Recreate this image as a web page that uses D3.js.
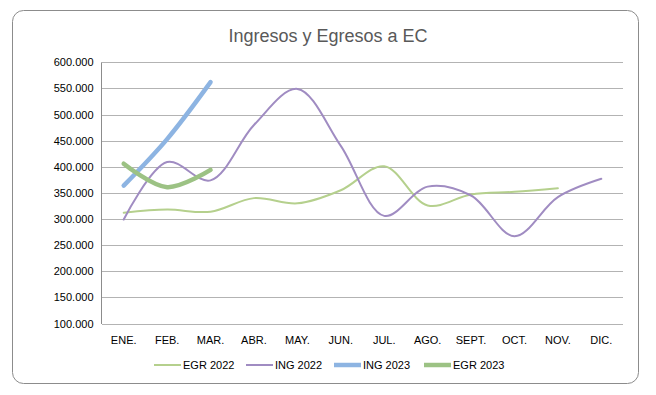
<!DOCTYPE html>
<html><head><meta charset="utf-8">
<script src="https://cdn.jsdelivr.net/npm/d3@7/dist/d3.min.js"></script>
<style>body{margin:0;background:#fff}svg{display:block}text{font-family:"Liberation Sans",Arial,sans-serif}</style>
</head><body><svg id="c" width="656" height="395"></svg>
<script>
const months = ["ENE.","FEB.","MAR.","ABR.","MAY.","JUN.","JUL.","AGO.","SEPT.","OCT.","NOV.","DIC."];
const yTicks = [100000,150000,200000,250000,300000,350000,400000,450000,500000,550000,600000];
const egr2022 = [312000,318000,314000,340000,330000,355000,401000,326000,347000,352000,359000,null];
const ing2022 = [299000,409000,374000,480000,549000,440000,306000,362000,345000,267000,342000,377000];
const ing2023 = [364000,453000,562000];
const egr2023 = [406000,361000,394000];
const seriesNames = ["EGR 2022","ING 2022","ING 2023","EGR 2023"];
const seriesColors = ["#B5D08D","#A08CC2","#8DB4E2","#9CC284"];
const seriesWidths = [2,2,4.5,4.5];
const seriesData = [egr2022,ing2022,ing2023,egr2023];

const svg = d3.select("#c");
svg.append("rect").attr("x",12.5).attr("y",10.5).attr("width",626).attr("height",373)
  .attr("rx",11).attr("fill","#fff").attr("stroke","#8c8c8c").attr("stroke-width",1);

svg.append("text").attr("x",328).attr("y",42).attr("text-anchor","middle")
  .attr("font-size",18).attr("fill","#595959").text("Ingresos y Egresos a EC");

const x = d3.scaleBand().domain(months).range([102,623]);
const y = d3.scaleLinear().domain([100000,600000]).range([323.5,62.3]);
const fmt = v => d3.format(",.0f")(v).replace(/,/g,".") ;

const grid = svg.append("g");
yTicks.forEach(t=>{
  grid.append("line").attr("x1",102).attr("x2",623).attr("y1",Math.round(y(t))+0.5).attr("y2",Math.round(y(t))+0.5)
    .attr("stroke","#b3b3b3").attr("stroke-width",1);
});
const yAxis = d3.axisLeft(y).tickValues(yTicks).tickFormat(fmt).tickSize(0).tickPadding(8);
const ya = svg.append("g").attr("transform","translate(101.5,0)").call(yAxis);
ya.select(".domain").attr("stroke","#8c8c8c").attr("d","M0,62.3V324");
ya.selectAll("text").attr("font-size",11).attr("fill","#000").attr("font-family","Liberation Sans, Arial, sans-serif");

const xAxis = d3.axisBottom(x).tickSize(0).tickPadding(12);
const xa = svg.append("g").attr("transform","translate(0,324)").call(xAxis);
xa.select(".domain").remove();
xa.selectAll("text").attr("font-size",11).attr("fill","#000").attr("font-family","Liberation Sans, Arial, sans-serif");

const line = d3.line().defined(d=>d[1]!=null).x(d=>x(d[0])+x.bandwidth()/2).y(d=>y(d[1])).curve(d3.curveCatmullRom.alpha(0.5));
seriesData.forEach((arr,i)=>{
  const pts = arr.map((v,j)=>[months[j],v]).filter(d=>d[1]!=null);
  svg.append("path").attr("d",line(pts)).attr("fill","none").attr("stroke",seriesColors[i])
    .attr("stroke-width",seriesWidths[i]).attr("stroke-linecap","round").attr("stroke-linejoin","round");
});

const legX = [154,246,334,424];
const lg = svg.append("g");
seriesNames.forEach((n,i)=>{
  lg.append("line").attr("x1",legX[i]).attr("x2",legX[i]+27).attr("y1",365).attr("y2",365)
    .attr("stroke",seriesColors[i]).attr("stroke-width",seriesWidths[i]);
  lg.append("text").attr("x",legX[i]+29).attr("y",369).attr("font-size",11).attr("fill","#000").text(n);
});
</script></body></html>
